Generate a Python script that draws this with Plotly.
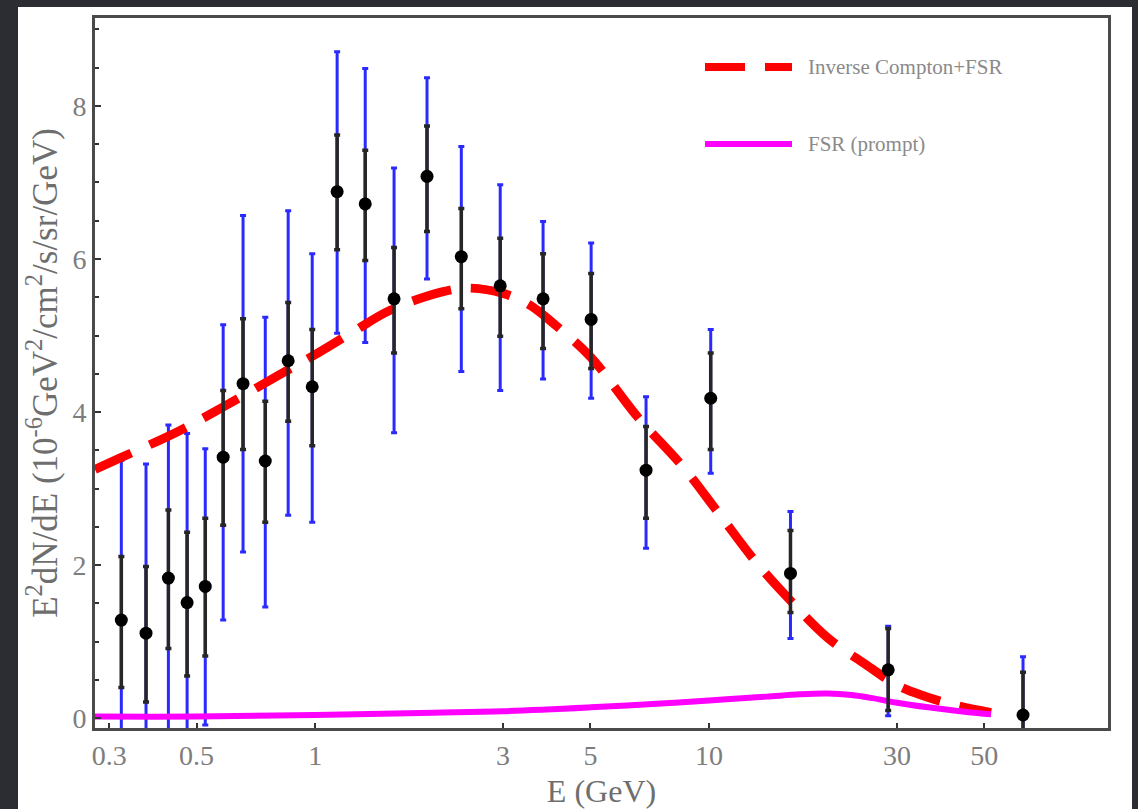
import plotly.graph_objects as go

# ---------------- data ----------------
E_pts = [0.322, 0.372, 0.424, 0.473, 0.526, 0.584, 0.656, 0.747, 0.854, 0.983,
         1.137, 1.34, 1.586, 1.923, 2.35, 2.95, 3.79, 5.02, 6.92, 10.1,
         16.1, 28.5, 62.7]
flux = [1.28, 1.11, 1.83, 1.51, 1.72, 3.41, 4.37, 3.36, 4.67, 4.33,
        6.88, 6.72, 5.48, 7.08, 6.03, 5.65, 5.48, 5.21, 3.24, 4.18,
        1.89, 0.63, 0.04]
stat_hi = [2.11, 1.98, 2.72, 2.43, 2.61, 4.28, 5.22, 4.14, 5.43, 5.08,
           7.62, 7.42, 6.15, 7.74, 6.66, 6.27, 6.07, 5.81, 3.81, 4.77,
           2.45, 1.17, 0.60]
stat_lo = [0.40, 0.21, 0.91, 0.55, 0.81, 2.52, 3.51, 2.56, 3.88, 3.56,
           6.12, 5.98, 4.77, 6.36, 5.35, 4.99, 4.83, 4.57, 2.61, 3.51,
           1.38, 0.10, -0.5]
tot_hi = [3.37, 3.32, 3.83, 3.72, 3.52, 5.14, 6.57, 5.24, 6.63, 6.07,
          8.71, 8.49, 7.19, 8.37, 7.47, 6.97, 6.49, 6.21, 4.20, 5.08,
          2.70, 1.20, 0.80]
tot_lo = [-0.5, -0.5, -0.5, -0.5, -0.09, 1.28, 2.17, 1.45, 2.65, 2.56,
          5.03, 4.91, 3.73, 5.74, 4.53, 4.28, 4.43, 4.18, 2.22, 3.20,
          1.04, 0.03, -0.5]

E_ic = [0.276, 0.32, 0.45, 0.6, 0.8, 1.0, 1.25, 1.55, 2.1, 2.45, 3.0, 3.5,
        4.0, 5.0, 6.6, 8.6, 10.5, 13.2, 16.0, 20.0, 25.0, 30.0, 35.0, 42.0, 52.0]
ic_fsr = [3.25, 3.40, 3.75, 4.10, 4.47, 4.75, 5.05, 5.33, 5.57, 5.62, 5.55, 5.40,
          5.17, 4.72, 3.93, 3.28, 2.70, 2.03, 1.55, 1.05, 0.70, 0.43, 0.29, 0.17, 0.07]

E_fsr = [0.276, 0.5, 1.0, 2.0, 3.0, 5.0, 7.0, 10.0, 14.0, 17.0, 20.0, 23.0,
         26.0, 30.0, 36.0, 45.0, 52.0]
fsr = [0.02, 0.02, 0.04, 0.07, 0.09, 0.14, 0.18, 0.23, 0.28, 0.31, 0.32, 0.30,
       0.26, 0.20, 0.14, 0.08, 0.05]

x_ticks = [0.3, 0.5, 1, 3, 5, 10, 30, 50]
x_ticktext = ["0.3", "0.5", "1", "3", "5", "10", "30", "50"]
y_ticks = [0, 2, 4, 6, 8]

legend_names = ["Inverse Compton+FSR", "FSR (prompt)"]

# ---------------- figure ----------------
fig = go.Figure()

# total (blue) error bars
fig.add_trace(go.Scatter(
    x=E_pts, y=flux, mode="markers",
    marker=dict(size=1, color="rgba(0,0,0,0)"),
    error_y=dict(type="data", symmetric=False,
                 array=[h - v for h, v in zip(tot_hi, flux)],
                 arrayminus=[v - l for l, v in zip(tot_lo, flux)],
                 color="#2a2aff", thickness=3, width=3),
    showlegend=False, hoverinfo="skip"))

# IC + FSR dashed curve
fig.add_trace(go.Scatter(
    x=E_ic, y=ic_fsr, mode="lines", line_shape="spline",
    line=dict(color="#ff0000", width=9, dash="40px,20px"),
    showlegend=False))

# FSR prompt
fig.add_trace(go.Scatter(
    x=E_fsr, y=fsr, mode="lines", line_shape="spline",
    line=dict(color="#ff00ff", width=6),
    showlegend=False))

# statistical (black) error bars + points
fig.add_trace(go.Scatter(
    x=E_pts, y=flux, mode="markers",
    marker=dict(size=13, color="#000000"),
    error_y=dict(type="data", symmetric=False,
                 array=[h - v for h, v in zip(stat_hi, flux)],
                 arrayminus=[v - l for l, v in zip(stat_lo, flux)],
                 color="#262626", thickness=3.5, width=3),
    showlegend=False))

# white panel on dark background
PL, PR, PT, PB = 95, 1108, 18, 728
W, H = PR - PL, PB - PT
def px(x):
    return (x - PL) / W
def py(y):
    return (PB - y) / H

shapes = [dict(type="rect", xref="paper", yref="paper",
               x0=px(18), x1=px(1132), y0=py(830), y1=py(7),
               fillcolor="white", line=dict(width=0), layer="below")]
# legend samples
shapes.append(dict(type="line", xref="paper", yref="paper",
                   x0=px(705), x1=px(792), y0=py(67), y1=py(67),
                   line=dict(color="#ff0000", width=8, dash="40px,20px")))
shapes.append(dict(type="line", xref="paper", yref="paper",
                   x0=px(705), x1=px(792), y0=py(144), y1=py(144),
                   line=dict(color="#ff00ff", width=6)))

annotations = [
    dict(text=legend_names[0], xref="paper", yref="paper", x=px(806), y=py(67),
         xanchor="left", yanchor="middle", showarrow=False,
         font=dict(family="Liberation Serif", size=21, color="#8a8a8a")),
    dict(text=legend_names[1], xref="paper", yref="paper", x=px(806), y=py(144),
         xanchor="left", yanchor="middle", showarrow=False,
         font=dict(family="Liberation Serif", size=21, color="#8a8a8a")),
]

tickfont = dict(family="Liberation Serif", size=28, color="#7d7d7d")

fig.update_layout(
    width=1138, height=809,
    margin=dict(l=PL, r=1138 - PR, t=PT, b=809 - PB),
    paper_bgcolor="#2c2d33", plot_bgcolor="white",
    shapes=shapes, annotations=annotations, showlegend=False,
    xaxis=dict(type="log", range=[-0.559, 2.013],
               tickvals=x_ticks, ticktext=x_ticktext,
               ticks="inside", ticklen=5, tickwidth=2, tickcolor="#333333",
               showline=True, linecolor="#4a4a4a", linewidth=3, mirror=True,
               showgrid=False, zeroline=False, automargin=False,
               tickfont=tickfont,
               title=dict(text="E (GeV)", standoff=18,
                          font=dict(family="Liberation Serif", size=32, color="#6e6e6e"))),
    yaxis=dict(range=[-0.13, 9.15], tickvals=y_ticks,
               ticks="inside", ticklen=6, tickwidth=2, tickcolor="#333333",
               minor=dict(ticks="inside", dtick=0.5, tick0=0, ticklen=4,
                          tickwidth=1.5, tickcolor="#333333", showgrid=False),
               showline=True, linecolor="#4a4a4a", linewidth=3, mirror=True,
               showgrid=False, zeroline=False, automargin=False,
               tickfont=tickfont,
               title=dict(text="E<sup>2</sup>dN/dE (10<sup>-6</sup>GeV<sup>2</sup>/cm<sup>2</sup>/s/sr/GeV)",
                          standoff=5,
                          font=dict(family="Liberation Serif", size=35, color="#6e6e6e"))),
)

fig.write_html(
    "out.html",
    config={"displayModeBar": False},
    post_script="document.body.style.margin='0';document.body.style.overflow='hidden';"
                "document.body.style.background='#2c2d33';",
)
